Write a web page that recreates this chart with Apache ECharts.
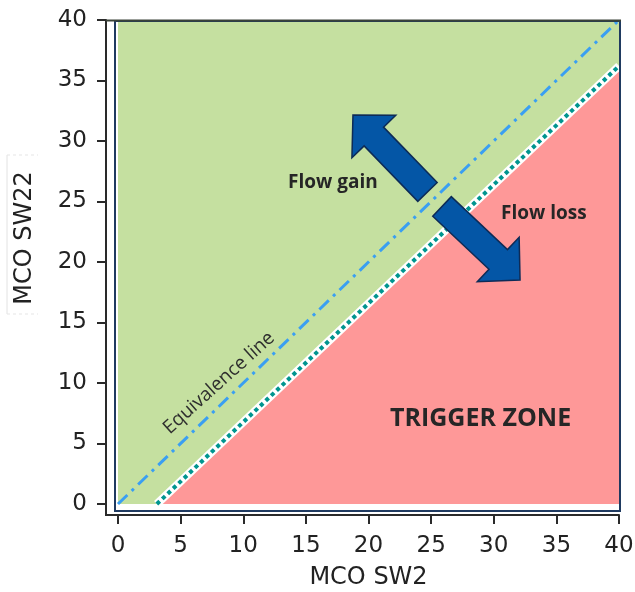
<!DOCTYPE html>
<html>
<head>
<meta charset="utf-8">
<script src="https://cdn.jsdelivr.net/npm/echarts@6/dist/echarts.min.js"></script>
<style>
html,body{margin:0;padding:0;background:#fff;}
#chart{width:635px;height:592px;}
</style>
</head>
<body>
<div id="chart"></div>
<script>
// ---- data ----
const axisMin = 0;
const axisMax = 40;
const tickStep = 5;
const xAxisName = 'MCO SW2';
const yAxisName = 'MCO SW22';
const equivalenceLine = [[0, 0], [40, 40]];
const triggerLine = [[3.1, 0], [40, 36.2]];
const gainZone = [[0, 0], [0, 40], [40, 40], [40, 36.2], [3.1, 0]];
const triggerZone = [[3.1, 0], [40, 0], [40, 36.2]];
// arrows: [tailX, tailY, tipX, tipY] in data units
const arrows = [[24.71, 25.79, 18.76, 32.15], [25.87, 24.59, 32.10, 18.51]];
const labels = ['Flow gain', 'Flow loss', 'TRIGGER ZONE', 'Equivalence line'];

const chart = echarts.init(document.getElementById('chart'), null, {renderer: 'canvas'});

function polygonSeries(points, color, z) {
  return {
    type: 'custom',
    z: z,
    silent: true,
    data: [0],
    renderItem: function (params, api) {
      return {
        type: 'polygon',
        shape: {points: points.map(p => api.coord(p))},
        style: {fill: color, stroke: null}
      };
    }
  };
}

const arrowSeries = {
  type: 'custom',
  z: 6,
  silent: true,
  data: arrows,
  renderItem: function (params, api) {
    const p0 = api.coord([api.value(0), api.value(1)]);
    const p1 = api.coord([api.value(2), api.value(3)]);
    const dx = p1[0] - p0[0], dy = p1[1] - p0[1];
    const len = Math.sqrt(dx * dx + dy * dy);
    const ux = dx / len, uy = dy / len;
    const nx = -uy, ny = ux;
    const sw = 13.5, hw = 30.5, hl = 30;
    const b = [p1[0] - ux * hl, p1[1] - uy * hl];
    const pts = [
      [p0[0] + nx * sw, p0[1] + ny * sw],
      [b[0] + nx * sw, b[1] + ny * sw],
      [b[0] + nx * hw, b[1] + ny * hw],
      [p1[0], p1[1]],
      [b[0] - nx * hw, b[1] - ny * hw],
      [b[0] - nx * sw, b[1] - ny * sw],
      [p0[0] - nx * sw, p0[1] - ny * sw]
    ];
    return {
      type: 'polygon',
      shape: {points: pts},
      style: {fill: '#0456a6', stroke: '#0d2b57', lineWidth: 1.5}
    };
  }
};

const axisCommon = {
  type: 'value',
  min: axisMin,
  max: axisMax,
  interval: tickStep,
  splitLine: {show: false},
  axisLine: {show: true, onZero: false, lineStyle: {color: '#2a2a2a', width: 2}},
  axisTick: {show: true, length: 9, lineStyle: {color: '#2a2a2a', width: 2}},
  axisLabel: {color: '#222', fontFamily: 'DejaVu Sans', fontSize: 23}
};

const option = {
  backgroundColor: '#ffffff',
  animation: false,
  grid: {left: 118, right: 16, top: 20, bottom: 88, containLabel: false, outerBoundsMode: 'none'},
  xAxis: Object.assign({}, axisCommon, {
    offset: 11,
    name: xAxisName,
    nameLocation: 'middle',
    nameGap: 51,
    nameTextStyle: {color: '#222', fontFamily: 'DejaVu Sans', fontSize: 24},
    axisLabel: Object.assign({}, axisCommon.axisLabel, {margin: 20})
  }),
  yAxis: Object.assign({}, axisCommon, {
    offset: 12,
    axisLabel: Object.assign({}, axisCommon.axisLabel, {margin: 19})
  }),
  series: [
    polygonSeries(gainZone, '#c5e0a0', 1),
    polygonSeries(triggerZone, '#fe9898', 1),
    {
      type: 'line', z: 2, silent: true, symbol: 'none',
      data: triggerLine,
      lineStyle: {color: '#ffffff', width: 8}
    },
    {
      type: 'line', z: 3, silent: true, symbol: 'none',
      data: triggerLine,
      lineStyle: {color: '#00958f', width: 4, type: [4, 3.5], cap: 'butt'}
    },
    {
      type: 'line', z: 4, silent: true, symbol: 'none',
      data: equivalenceLine,
      lineStyle: {color: '#3a9ff2', width: 3, type: [13, 6, 3, 6], cap: 'butt'}
    },
    arrowSeries
  ],
  graphic: [
    // plot frame
    {type: 'rect', z: 50, silent: true, shape: {x: 115, y: 21, width: 505, height: 490},
      style: {fill: null, stroke: '#1f3a60', lineWidth: 2}},
    {type: 'line', z: 51, silent: true, shape: {x1: 106, y1: 20.5, x2: 621, y2: 20.5},
      style: {stroke: '#3a4238', lineWidth: 2}},
    // axis line joins
    {type: 'line', z: 51, silent: true, shape: {x1: 106, y1: 503, x2: 106, y2: 516},
      style: {stroke: '#2a2a2a', lineWidth: 2}},
    {type: 'line', z: 51, silent: true, shape: {x1: 105, y1: 515, x2: 120, y2: 515},
      style: {stroke: '#2a2a2a', lineWidth: 2}},
    // faint box around y label
    {type: 'line', z: 1, silent: true, shape: {x1: 7, y1: 155, x2: 7, y2: 314},
      style: {stroke: '#e2e2e2', lineWidth: 1}},
    {type: 'line', z: 1, silent: true, shape: {x1: 7, y1: 155, x2: 38, y2: 155},
      style: {stroke: '#e6e6e6', lineWidth: 1, lineDash: [3, 3]}},
    {type: 'line', z: 1, silent: true, shape: {x1: 7, y1: 314, x2: 38, y2: 314},
      style: {stroke: '#e6e6e6', lineWidth: 1, lineDash: [3, 3]}},
    // y axis name
    {type: 'text', z: 60, silent: true, x: 25, y: 238, rotation: Math.PI / 2,
      style: {text: yAxisName, fill: '#222', font: '24px "DejaVu Sans"', textAlign: 'center', textVerticalAlign: 'middle'}},
    // annotations
    {type: 'text', z: 60, silent: true, x: 288, y: 183,
      style: {text: labels[0], fill: '#262626', font: 'bold 19px "Open Sans"', textAlign: 'left', textVerticalAlign: 'middle'}},
    {type: 'text', z: 60, silent: true, x: 501, y: 214,
      style: {text: labels[1], fill: '#262626', font: 'bold 19px "Open Sans"', textAlign: 'left', textVerticalAlign: 'middle'}},
    {type: 'text', z: 60, silent: true, x: 390, y: 419,
      style: {text: labels[2], fill: '#262626', font: 'bold 25px "Open Sans"', textAlign: 'left', textVerticalAlign: 'middle'}},
    {type: 'text', z: 60, silent: true, x: 219, y: 383, rotation: 42 * Math.PI / 180,
      style: {text: labels[3], fill: '#2e2e2e', font: '19px "Open Sans"', textAlign: 'center', textVerticalAlign: 'middle'}}
  ]
};

chart.setOption(option);
</script>
</body>
</html>
